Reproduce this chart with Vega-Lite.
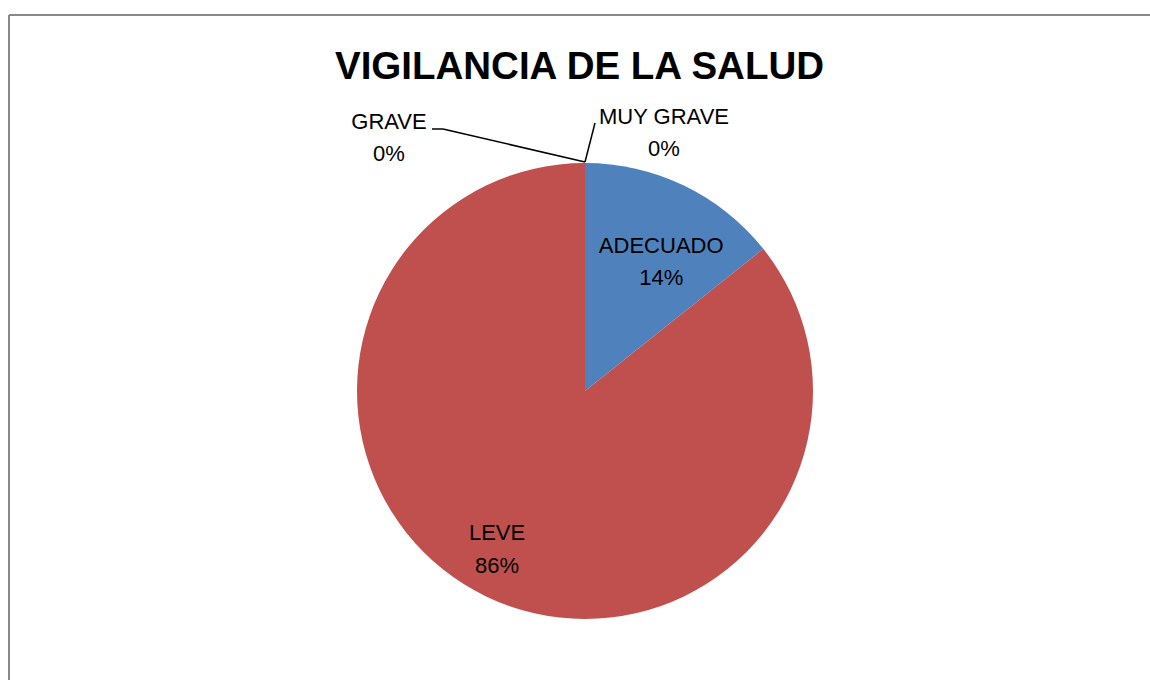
{
  "$schema": "https://vega.github.io/schema/vega-lite/v6.json",
  "width": 1141,
  "height": 665,
  "autosize": "none",
  "padding": {"left": 9, "top": 15, "right": 0, "bottom": 0},
  "background": "white",
  "config": {"view": {"stroke": null}},
  "title": {
    "text": "VIGILANCIA DE LA SALUD",
    "font": "Liberation Sans",
    "fontSize": 38.5,
    "fontWeight": "bold",
    "color": "black",
    "anchor": "middle",
    "frame": "group",
    "baseline": "alphabetic",
    "offset": -103
  },
  "data": {
    "values": [
      {"categoria": "ADECUADO", "valor": 1, "etiqueta": "ADECUADO\n14%", "orden": 1},
      {"categoria": "LEVE", "valor": 6, "etiqueta": "LEVE\n86%", "orden": 2},
      {"categoria": "GRAVE", "valor": 0, "etiqueta": "GRAVE\n0%", "orden": 3},
      {"categoria": "MUY GRAVE", "valor": 0, "etiqueta": "MUY GRAVE\n0%", "orden": 4}
    ]
  },
  "encoding": {
    "x": {"datum": 0, "type": "quantitative", "scale": {"domain": [-576, 565], "nice": false, "zero": false}, "axis": null},
    "y": {"datum": 0, "type": "quantitative", "scale": {"domain": [-289, 376], "nice": false, "zero": false}, "axis": null}
  },
  "layer": [
    {
      "mark": {"type": "arc", "outerRadius": 228},
      "encoding": {
        "theta": {"field": "valor", "type": "quantitative", "stack": true},
        "order": {"field": "orden", "type": "quantitative"},
        "color": {
          "field": "categoria",
          "type": "nominal",
          "scale": {"domain": ["ADECUADO", "LEVE", "GRAVE", "MUY GRAVE"], "range": ["#4F81BD", "#C0504D", "#9BBB59", "#8064A2"]},
          "legend": null
        }
      }
    },
    {
      "mark": {"type": "text", "radius": 148, "dx": 12, "dy": -12, "font": "Liberation Sans", "fontSize": 22, "lineHeight": 32, "lineBreak": "\n", "baseline": "middle", "align": "center", "color": "black"},
      "encoding": {
        "theta": {"field": "valor", "type": "quantitative", "stack": true},
        "order": {"field": "orden", "type": "quantitative"},
        "text": {"condition": {"test": "datum.categoria === 'ADECUADO'", "field": "etiqueta", "type": "nominal"}, "value": ""}
      }
    },
    {
      "mark": {"type": "text", "radius": 175, "dx": -12, "dy": -16, "font": "Liberation Sans", "fontSize": 22, "lineHeight": 33, "lineBreak": "\n", "baseline": "middle", "align": "center", "color": "black"},
      "encoding": {
        "theta": {"field": "valor", "type": "quantitative", "stack": true},
        "order": {"field": "orden", "type": "quantitative"},
        "text": {"condition": {"test": "datum.categoria === 'LEVE'", "field": "etiqueta", "type": "nominal"}, "value": ""}
      }
    },
    {
      "mark": {"type": "text", "radius": 228, "dx": -196, "dy": -41, "font": "Liberation Sans", "fontSize": 22, "lineHeight": 32, "lineBreak": "\n", "baseline": "middle", "align": "center", "color": "black"},
      "encoding": {
        "theta": {"field": "valor", "type": "quantitative", "stack": true},
        "order": {"field": "orden", "type": "quantitative"},
        "text": {"condition": {"test": "datum.categoria === 'GRAVE'", "field": "etiqueta", "type": "nominal"}, "value": ""}
      }
    },
    {
      "mark": {"type": "text", "radius": 228, "dx": 79, "dy": -46, "font": "Liberation Sans", "fontSize": 22, "lineHeight": 32, "lineBreak": "\n", "baseline": "middle", "align": "center", "color": "black"},
      "encoding": {
        "theta": {"field": "valor", "type": "quantitative", "stack": true},
        "order": {"field": "orden", "type": "quantitative"},
        "text": {"condition": {"test": "datum.categoria === 'MUY GRAVE'", "field": "etiqueta", "type": "nominal"}, "value": ""}
      }
    },
    {
      "data": {"values": [{}]},
      "mark": {"type": "rule", "color": "black", "strokeWidth": 1.5},
      "encoding": {"x": {"datum": 0}, "y": {"datum": 229}, "x2": {"datum": -142}, "y2": {"datum": 262}}
    },
    {
      "data": {"values": [{}]},
      "mark": {"type": "rule", "color": "black", "strokeWidth": 1.5},
      "encoding": {"x": {"datum": -142}, "y": {"datum": 262}, "x2": {"datum": -153}, "y2": {"datum": 262}}
    },
    {
      "data": {"values": [{}]},
      "mark": {"type": "rule", "color": "black", "strokeWidth": 1.5},
      "encoding": {"x": {"datum": 0}, "y": {"datum": 229}, "x2": {"datum": 10}, "y2": {"datum": 268}}
    },
    {
      "data": {"values": [{}]},
      "mark": {"type": "rule", "color": "#888888", "strokeWidth": 2},
      "encoding": {"x": {"datum": -576}, "x2": {"datum": 565}, "y": {"datum": 376}}
    },
    {
      "data": {"values": [{}]},
      "mark": {"type": "rule", "color": "#888888", "strokeWidth": 2},
      "encoding": {"x": {"datum": -576}, "y": {"datum": -289}, "y2": {"datum": 376}}
    }
  ]
}
